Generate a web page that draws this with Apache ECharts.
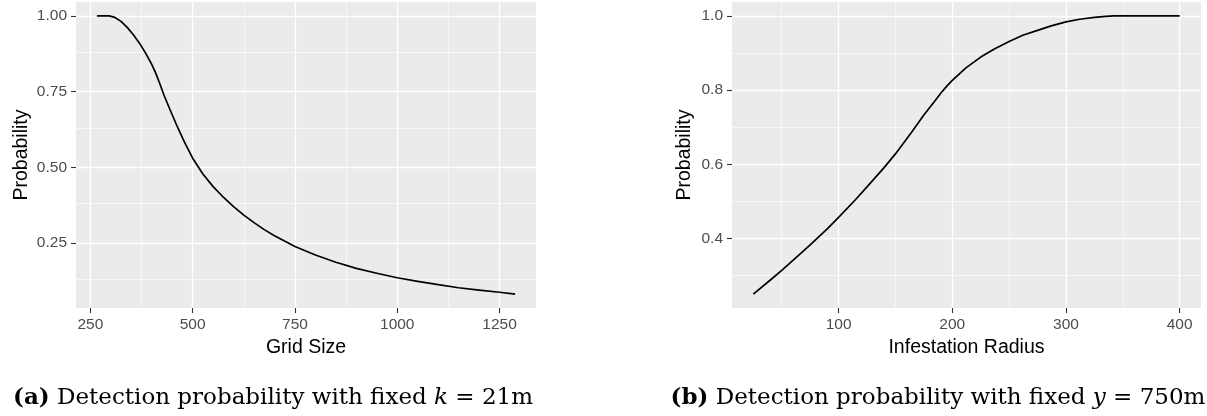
<!DOCTYPE html>
<html>
<head>
<meta charset="utf-8">
<script src="https://cdn.jsdelivr.net/npm/echarts@6/dist/echarts.min.js"></script>
<style>
  html, body { margin: 0; padding: 0; background: #fff; }
  #chart { width: 1207px; height: 416px; }
</style>
</head>
<body>
<div id="chart"></div>
<script>
// (a) probabilité vs taille de grille, k = 21m
var gridSize = [266, 280, 296, 310, 325, 340, 355, 370, 385, 400, 410, 420, 430, 445, 460, 480,
  500, 525, 550, 575, 600, 625, 650, 675, 700, 750, 800, 850, 900, 950, 1000, 1050, 1100, 1150, 1200, 1250, 1288];
var probA = [1.0, 1.0, 1.0, 0.995, 0.982, 0.962, 0.938, 0.91, 0.877, 0.84, 0.81, 0.775, 0.738, 0.689, 0.642, 0.583,
  0.53, 0.478, 0.436, 0.401, 0.37, 0.342, 0.317, 0.294, 0.274, 0.238, 0.21, 0.186, 0.166, 0.15, 0.135, 0.123, 0.112, 0.102, 0.094, 0.087, 0.081];

// (b) probabilité vs rayon d'infestation, y = 750m
var radius = [25, 40, 50, 65, 75, 90, 100, 115, 125, 140, 150, 165, 175, 185, 190, 195, 200, 212, 225,
  237, 250, 262, 275, 287, 300, 312, 325, 335, 342, 400];
var probB = [0.25, 0.288, 0.314, 0.355, 0.383, 0.426, 0.457, 0.505, 0.539, 0.591, 0.628, 0.69, 0.733, 0.772, 0.792,
  0.81, 0.826, 0.86, 0.889, 0.911, 0.931, 0.948, 0.961, 0.973, 0.984, 0.991, 0.996, 0.999, 1.0, 1.0];

// ticks
var xTicksA = [250, 500, 750, 1000, 1250];
var xMinorA = [375, 625, 875, 1125];
var yTicksA = [0.25, 0.5, 0.75, 1.0];
var yMinorA = [0.125, 0.375, 0.625, 0.875];
var xTicksB = [100, 200, 300, 400];
var xMinorB = [50, 150, 250, 350];
var yTicksB = [0.4, 0.6, 0.8, 1.0];
var yMinorB = [0.3, 0.5, 0.7, 0.9];

var captionA = '{b|(a)} Detection probability with fixed {i|k} = 21m';
var captionB = '{b|(b)} Detection probability with fixed {i|y} = 750m';

function pad(arr) {   // expansion 5% comme ggplot
  var lo = Math.min.apply(null, arr), hi = Math.max.apply(null, arr);
  var d = (hi - lo) * 0.05;
  return [lo - d, hi + d];
}

function gridLines(xs, xm, ys, ym) {
  var data = [];
  xs.forEach(function (v) { data.push({ xAxis: v, lineStyle: { width: 1.3 } }); });
  xm.forEach(function (v) { data.push({ xAxis: v, lineStyle: { width: 0.6 } }); });
  ys.forEach(function (v) { data.push({ yAxis: v, lineStyle: { width: 1.3 } }); });
  ym.forEach(function (v) { data.push({ yAxis: v, lineStyle: { width: 0.6 } }); });
  return data;
}

var tickLabel = { color: '#4D4D4D', fontSize: 15.5, fontFamily: 'Liberation Sans' };
var axisName = { color: '#000', fontSize: 19.5, fontFamily: 'Liberation Sans' };

function xAxis(idx, name, range, ticks) {
  return {
    type: 'value', gridIndex: idx, min: range[0], max: range[1],
    name: name, nameLocation: 'middle', nameGap: 30, nameTextStyle: axisName,
    axisLine: { show: false },
    axisTick: { show: true, length: 5, customValues: ticks, lineStyle: { color: '#333', width: 1.1 } },
    axisLabel: Object.assign({ margin: 9, customValues: ticks, formatter: function (v) { return String(v); } }, tickLabel),
    splitLine: { show: false }
  };
}
function yAxis(idx, range, ticks, dec, gap) {
  return {
    type: 'value', gridIndex: idx, min: range[0], max: range[1],
    name: 'Probability', nameLocation: 'middle', nameGap: gap, nameTextStyle: axisName,
    axisLine: { show: false },
    axisTick: { show: true, length: 5, customValues: ticks, lineStyle: { color: '#333', width: 1.1 } },
    axisLabel: Object.assign({ margin: 9, customValues: ticks, formatter: function (v) { return v.toFixed(dec); } }, tickLabel),
    splitLine: { show: false }
  };
}

function gridSeries(idx, data) {
  return {
    type: 'line', xAxisIndex: idx, yAxisIndex: idx, data: [], z: 1, silent: true,
    markLine: { z: 1, symbol: ['none', 'none'], silent: true, animation: false, label: { show: false },
      lineStyle: { color: '#fff', type: 'solid' }, emphasis: { disabled: true }, data: data }
  };
}

var chart = echarts.init(document.getElementById('chart'));
var option = {
  animation: false,
  backgroundColor: '#fff',
  grid: [
    { left: 76, top: 2, width: 460, height: 306, show: true, backgroundColor: '#EBEBEB', borderWidth: 0 },
    { left: 732, top: 2, width: 469, height: 306, show: true, backgroundColor: '#EBEBEB', borderWidth: 0 }
  ],
  xAxis: [
    xAxis(0, 'Grid Size', pad(gridSize), xTicksA),
    xAxis(1, 'Infestation Radius', pad(radius), xTicksB)
  ],
  yAxis: [
    yAxis(0, pad(probA), yTicksA, 2, 44),
    yAxis(1, pad(probB), yTicksB, 1, 37)
  ],
  series: [
    gridSeries(0, gridLines(xTicksA, xMinorA, yTicksA, yMinorA)),
    gridSeries(1, gridLines(xTicksB, xMinorB, yTicksB, yMinorB)),
    {
      type: 'line', xAxisIndex: 0, yAxisIndex: 0, z: 10,
      data: gridSize.map(function (x, i) { return [x, probA[i]]; }),
      showSymbol: false, smooth: false,
      lineStyle: { color: '#000', width: 1.7, join: 'round' }, emphasis: { disabled: true }
    },
    {
      type: 'line', xAxisIndex: 1, yAxisIndex: 1, z: 10,
      data: radius.map(function (x, i) { return [x, probB[i]]; }),
      showSymbol: false, smooth: false,
      lineStyle: { color: '#000', width: 1.7, join: 'round' }, emphasis: { disabled: true }
    }
  ],
  graphic: [
    { type: 'text', x: 273, y: 398,
      style: { text: captionA, align: 'center', verticalAlign: 'middle', fill: '#000',
        fontSize: 23, fontFamily: 'DejaVu Serif',
        rich: { b: { fontWeight: 'bold', fontSize: 23, fontFamily: 'DejaVu Serif' },
                i: { fontStyle: 'italic', fontSize: 23, fontFamily: 'DejaVu Serif' } } } },
    { type: 'text', x: 938, y: 398,
      style: { text: captionB, align: 'center', verticalAlign: 'middle', fill: '#000',
        fontSize: 23, fontFamily: 'DejaVu Serif',
        rich: { b: { fontWeight: 'bold', fontSize: 23, fontFamily: 'DejaVu Serif' },
                i: { fontStyle: 'italic', fontSize: 23, fontFamily: 'DejaVu Serif' } } } }
  ]
};
chart.setOption(option);
</script>
</body>
</html>
